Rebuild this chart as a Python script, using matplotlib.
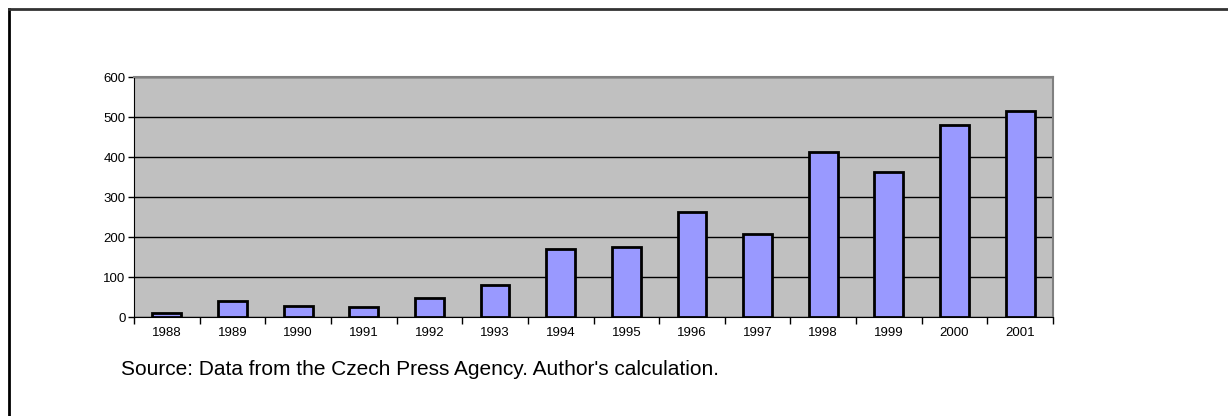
import matplotlib.pyplot as plt
import numpy as np

years = ['1988', '1989', '1990', '1991', '1992', '1993', '1994',
         '1995', '1996', '1997', '1998', '1999', '2000', '2001']
counts = [10, 40, 27, 24, 48, 80, 170, 176, 262, 207, 412, 362, 480, 516]
y_ticks = [0, 100, 200, 300, 400, 500, 600]

plt.rcParams['font.family'] = ['Liberation Sans', 'DejaVu Sans']

fig = plt.figure(figsize=(12.28, 4.16), dpi=100)

# outer frame (top and left only visible)
fig.add_artist(plt.Line2D([8.5 / 1228, 8.5 / 1228], [0, 1 - 8.5 / 416],
                          color='black', lw=2, transform=fig.transFigure))
fig.add_artist(plt.Line2D([8.5 / 1228, 1], [1 - 8.5 / 416, 1 - 8.5 / 416],
                          color='#333333', lw=2, transform=fig.transFigure))

ax = fig.add_axes([134 / 1228, 1 - 317 / 416, 919 / 1228, 240 / 416])
ax.set_facecolor('#C0C0C0')

x = np.arange(len(years))
ax.bar(x, counts, width=0.44, color='#9999FF', edgecolor='black',
       linewidth=2, zorder=3)

ax.set_xlim(-0.5, len(years) - 0.5)
ax.set_ylim(0, 600)
ax.set_yticks(y_ticks)
ax.yaxis.grid(True, color='black', linewidth=1, zorder=1)
ax.set_axisbelow(True)

ax.set_xticks(x)
ax.set_xticklabels(years, fontsize=9.5)
ax.tick_params(axis='x', length=0, pad=7)
ax.set_xticks(np.arange(-0.5, len(years)), minor=True)
ax.tick_params(axis='x', which='minor', length=5, width=1, color='black')
ax.tick_params(axis='y', length=4, width=1, labelsize=9.5, pad=2)

ax.spines['left'].set_color('black')
ax.spines['bottom'].set_color('black')
ax.spines['top'].set_color('#808080')
ax.spines['right'].set_color('#808080')
ax.spines['top'].set_linewidth(1.5)
ax.spines['right'].set_linewidth(1.5)

fig.text(121 / 1228, 1 - 375 / 416,
         "Source: Data from the Czech Press Agency. Author's calculation.",
         fontsize=15, va='baseline', ha='left')

plt.savefig('out.png')
